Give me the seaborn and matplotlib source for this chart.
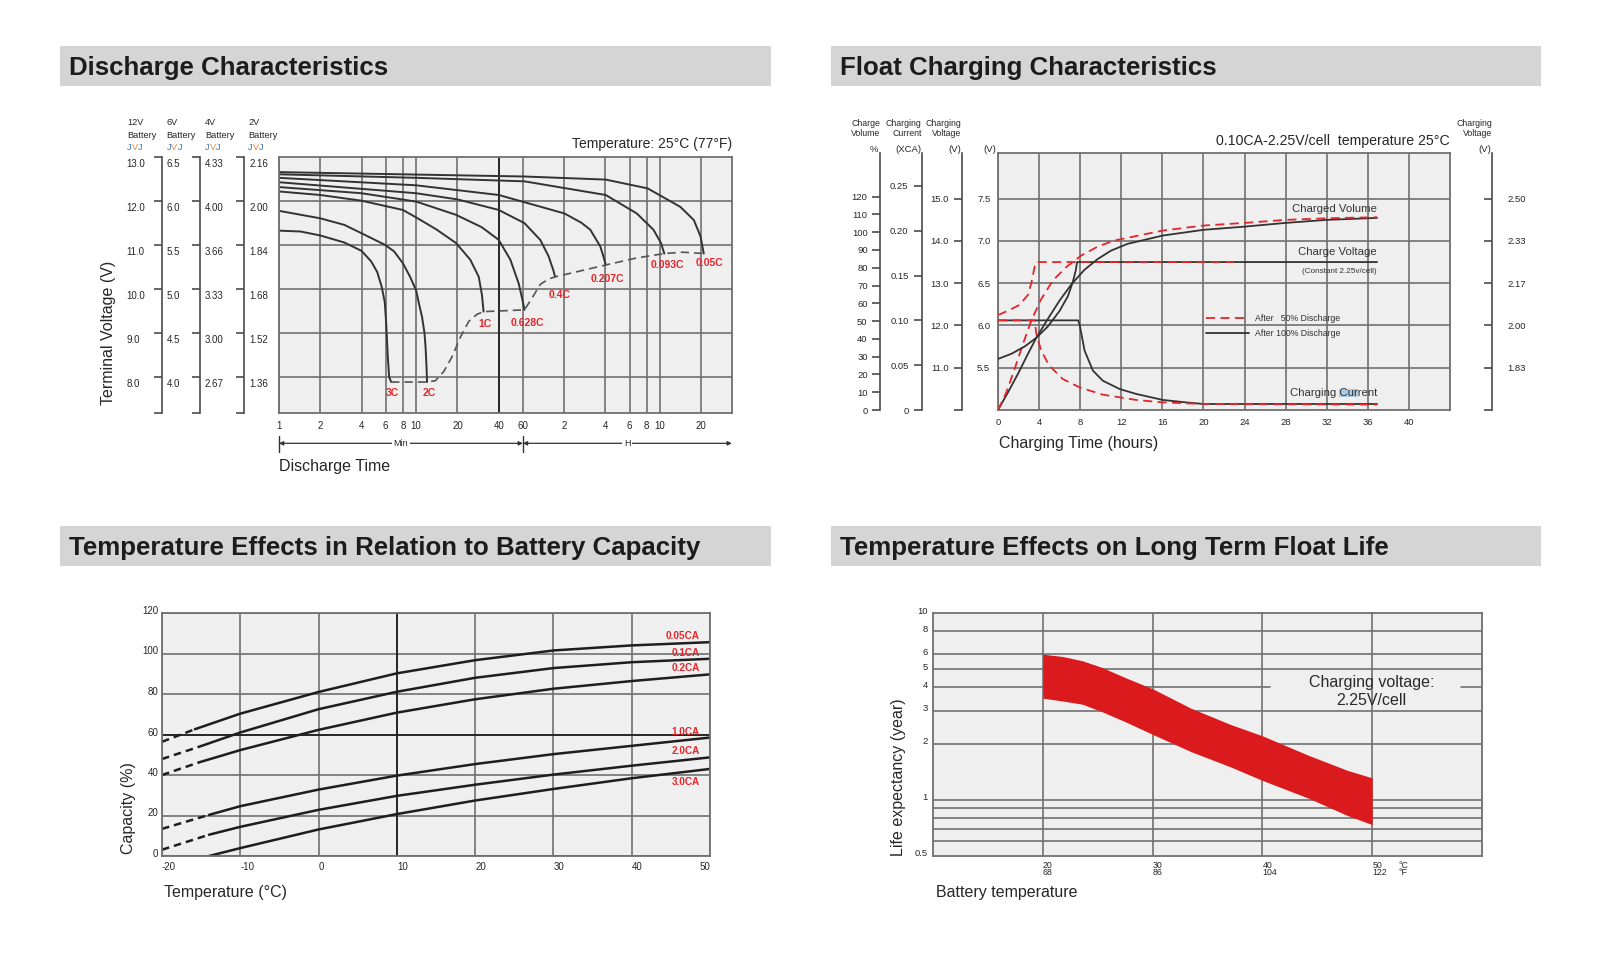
import numpy as np
import pandas as pd
import matplotlib
matplotlib.use("Agg")
import matplotlib.pyplot as plt
import matplotlib.transforms as mtransforms
from matplotlib.lines import Line2D
from matplotlib.patches import Rectangle
from matplotlib.ticker import NullLocator
import seaborn as sns

# ===================== DATA =====================
# --- Discharge characteristics: 12 V terminal voltage vs discharge time (minutes)
dis_labels = ["3C", "2C", "1C", "0.628C", "0.4C", "0.207C", "0.093C", "0.05C"]
t_3c = [1, 1.44, 2, 3, 4, 4.7, 5.2, 5.6, 5.9, 6.05, 6.2, 6.35, 6.57]
v_3c = [11.32, 11.30, 11.21, 11.05, 10.86, 10.62, 10.38, 10.05, 9.70, 9.20, 8.50, 8.00, 7.88]
t_2c = [1, 2, 3, 4, 5.9, 6.9, 8, 9, 10, 10.5, 11.05, 11.5, 11.7, 11.9, 12.0]
v_2c = [11.77, 11.60, 11.45, 11.26, 11.00, 10.85, 10.58, 10.28, 9.96, 9.65, 9.35, 8.99, 8.69, 8.22, 7.88]
t_1c = [1, 2, 4, 8, 10, 14, 19.5, 24.8, 28.6, 30.2, 31.0]
v_1c = [12.21, 12.13, 12.00, 11.79, 11.62, 11.35, 11.04, 10.66, 10.27, 9.85, 9.48]
t_0628c = [1, 4, 10, 19.5, 30, 40, 48.6, 55.9, 59.5, 61.6]
v_0628c = [12.31, 12.17, 11.98, 11.68, 11.40, 11.11, 10.66, 10.12, 9.75, 9.52]
t_04c = [1, 10, 20, 40, 61.6, 80.3, 92.3, 100, 103]
v_04c = [12.42, 12.17, 12.03, 11.79, 11.49, 11.11, 10.74, 10.42, 10.27]
t_0207c = [1, 10, 40, 120.6, 160, 186, 220, 232, 241]
v_0207c = [12.52, 12.35, 12.13, 11.71, 11.50, 11.34, 10.96, 10.73, 10.54]
t_0093c = [1, 10, 61.6, 241, 406, 537, 609, 644]
v_0093c = [12.60, 12.52, 12.44, 12.13, 11.71, 11.34, 11.04, 10.80]
t_005c = [1, 61.6, 241, 487, 843, 1058, 1183, 1249]
v_005c = [12.65, 12.55, 12.48, 12.28, 11.86, 11.56, 11.19, 10.80]
# final (end) voltage line
t_end = [6.57, 12.0, 13.8, 15.9, 18.3, 21.0, 24.2, 27.8, 31.0, 61.6, 70.0, 80.3, 92.3, 103,
         241, 406, 644, 885, 1249]
v_end = [7.88, 7.88, 7.91, 8.12, 8.46, 8.90, 9.26, 9.42, 9.48, 9.52, 9.79, 10.10, 10.22, 10.27,
         10.54, 10.70, 10.80, 10.83, 10.80]
dis_xticks = [1, 2, 4, 6, 8, 10, 20, 40, 60, 120, 240, 360, 480, 600, 1200]
dis_xticklabels = ["1", "2", "4", "6", "8", "10", "20", "40", "60", "2", "4", "6", "8", "10", "20"]
v12_ticks = [8, 9, 10, 11, 12, 13]
lab_12v = ["8.0", "9.0", "10.0", "11.0", "12.0", "13.0"]
lab_6v = ["4.0", "4.5", "5.0", "5.5", "6.0", "6.5"]
lab_4v = ["2.67", "3.00", "3.33", "3.66", "4.00", "4.33"]
lab_2v = ["1.36", "1.52", "1.68", "1.84", "2.00", "2.16"]
batt_names = ["12V", "6V", "4V", "2V"]

# --- Float charging characteristics (hours)
h_vol_100 = [0, 0.97, 1.94, 2.91, 3.72, 4.85, 5.99, 7.18, 8.41, 9.71, 11.0, 12.6, 16.05, 20, 24, 28, 32, 36.9]
pct_vol_100 = [0, 9.9, 20.3, 31.5, 40.5, 51.2, 61.5, 70.9, 78.8, 84.9, 89.6, 93.4, 98.1, 101.3, 103.1, 105.2, 106.9, 108.0]
h_vol_50 = [0, 0.81, 1.62, 2.43, 3.24, 4.21, 5.34, 6.63, 8.09, 9.71, 11.33, 16.05, 20, 24, 28, 32, 36.9]
pct_vol_50 = [0, 9.9, 23.1, 37.1, 50.3, 62.4, 72.8, 80.3, 86.8, 91.9, 95.3, 100.9, 103.7, 105.2, 106.9, 107.8, 108.4]
h_volt_100 = [0, 1.29, 2.59, 3.72, 4.85, 5.99, 6.80, 7.28, 7.57, 7.70, 36.9]
cell_volt_100 = [1.868, 1.888, 1.917, 1.951, 1.996, 2.057, 2.115, 2.171, 2.217, 2.25, 2.25]
h_volt_50 = [0, 0.97, 2.1, 2.92, 3.24, 3.57, 3.73, 22.9]
cell_volt_50 = [2.041, 2.058, 2.081, 2.121, 2.167, 2.232, 2.25, 2.25]
h_cur_100 = [0, 7.80, 7.95, 8.43, 9.24, 10.2, 11.84, 13.46, 16.05, 18.3, 20, 36.9]
ca_cur_100 = [0.10, 0.10, 0.095, 0.0662, 0.0439, 0.0327, 0.0234, 0.0179, 0.0112, 0.0085, 0.0067, 0.0067]
h_cur_50 = [0, 3.57, 3.73, 4.2, 5.0, 6.3, 7.95, 10.2, 13.46, 16.05, 20, 36.9]
ca_cur_50 = [0.10, 0.10, 0.0848, 0.0662, 0.0494, 0.0346, 0.0252, 0.0171, 0.0112, 0.0085, 0.0067, 0.006]
fc_hours = [0, 4, 8, 12, 16, 20, 24, 28, 32, 36, 40]
v6_ticks = [5.5, 6.0, 6.5, 7.0, 7.5]
vol_ticks = [0, 10, 20, 30, 40, 50, 60, 70, 80, 90, 100, 110, 120]
ca_ticks = [0, 0.05, 0.10, 0.15, 0.20, 0.25]
ca_labels = ["0", "0.05", "0.10", "0.15", "0.20", "0.25"]
v12f_ticks = [10, 11, 12, 13, 14, 15]
v12f_labels = ["", "11.0", "12.0", "13.0", "14.0", "15.0"]
cell_ticks = [1.6667, 1.8333, 2.0, 2.1667, 2.3333, 2.5]
cell_labels = ["", "1.83", "2.00", "2.17", "2.33", "2.50"]

# --- Temperature effects on capacity (%)
cap_names = ["0.05CA", "0.1CA", "0.2CA", "1.0CA", "2.0CA", "3.0CA"]
T_005 = [-15.8, -10, 0, 10, 20, 30, 40, 50]
C_005 = [62.6, 70.3, 81.0, 90.2, 96.7, 101.5, 104.0, 105.6]
T_01 = [-15.3, -10, 0, 10, 20, 30, 40, 50]
C_01 = [53.9, 61.0, 72.5, 81.1, 88.0, 92.8, 95.7, 97.4]
T_02 = [-15.3, -10, 0, 10, 20, 30, 40, 50]
C_02 = [46.2, 52.3, 62.3, 70.8, 77.4, 82.6, 86.4, 89.7]
T_10 = [-14, -10, 0, 10, 20, 30, 40, 50]
C_10 = [20.3, 24.6, 32.8, 39.7, 45.4, 50.3, 54.4, 58.5]
T_20 = [-14, -10, 0, 10, 20, 30, 40, 50]
C_20 = [10.5, 14.4, 22.8, 29.7, 35.2, 40.2, 44.6, 48.7]
T_30 = [-14, -10, 0, 10, 20, 30, 40, 50]
C_30 = [0.0, 3.9, 13.1, 20.7, 27.4, 33.1, 38.4, 43.0]
cap_dash_T0 = -20
cap_dash_C0 = [56.4, 47.9, 40.0, 13.4, 3.1, None]

# --- Temperature effects on float life (years)
life_T = [20, 21.8, 23.6, 25.4, 27.5, 30, 33.5, 37.1, 40, 44.2, 47.7, 50]
life_hi = [6.02, 5.85, 5.55, 5.11, 4.51, 3.93, 3.09, 2.53, 2.20, 1.73, 1.44, 1.31]
life_lo = [3.50, 3.38, 3.25, 2.96, 2.62, 2.24, 1.81, 1.50, 1.27, 1.02, 0.826, 0.736]
life_yticks = [0.5, 1, 2, 3, 4, 5, 6, 8, 10]
life_ylabels = ["0.5", "1", "2", "3", "4", "5", "6", "8", "10"]
life_minor = [0.6, 0.7, 0.8, 0.9]
life_xticks = [20, 30, 40, 50]
life_xlabels = ["20\n68", "30\n86", "40\n104", "50\n122"]

# ===================== STYLE =====================
W, H = 1600, 974
sns.set_theme(style="white")
plt.rcParams["font.family"] = ["Liberation Sans", "DejaVu Sans"]
plt.rcParams["axes.unicode_minus"] = False

BG = "#efefef"
GRID = "#707070"
CURVE = "#333333"
RED = "#e3262b"
TXT = "#262626"
BANNER = "#d5d5d5"
DASH = (0, (5, 3))

fig = plt.figure(figsize=(16, 9.74), dpi=100)
fig.patch.set_facecolor("white")


def R(l, t, r, b):
    return [l / W, 1 - b / H, (r - l) / W, (b - t) / H]


def ftext(x, y, s, **kw):
    kw.setdefault("color", TXT)
    return fig.text(x / W, 1 - y / H, s, **kw)


def style_ax(ax):
    ax.set_facecolor(BG)
    for s in ax.spines.values():
        s.set_color(GRID)
        s.set_linewidth(1.3)
    ax.set_axisbelow(True)


def shift_labels(labels, dx_px=0.0, dy_px=0.0):
    off = mtransforms.ScaledTranslation(dx_px / 100, dy_px / 100, fig.dpi_scale_trans)
    for lb in labels:
        lb.set_transform(lb.get_transform() + off)


def scale_axis(x_px, top, bot, ylim, ticks, labels, side="left", pad=3.0, tlen=6.0):
    a = fig.add_axes(R(x_px, top, x_px + 0.5, bot))
    a.patch.set_visible(False)
    for k in ("top", "bottom", "right"):
        a.spines[k].set_visible(False)
    a.spines["left"].set_color("#4a4a4a")
    a.spines["left"].set_linewidth(1.2)
    a.set_xticks([])
    a.set_ylim(*ylim)
    a.set_yticks(ticks)
    a.set_yticklabels(labels)
    a.yaxis.set_minor_locator(NullLocator())
    a.tick_params(axis="y", which="major", direction="out", length=tlen, width=1.2,
                  color="#4a4a4a", labelsize=6.8, labelcolor=TXT, pad=pad,
                  left=True, right=False,
                  labelleft=(side == "left"), labelright=(side == "right"))
    return a


# ---------- banners ----------
banners = [(60, 46, 771, "Discharge Characteristics"),
           (831, 46, 1541, "Float Charging Characteristics"),
           (60, 526, 771, "Temperature Effects in Relation to Battery Capacity"),
           (831, 526, 1541, "Temperature Effects on Long Term Float Life")]
for (l, t, r, s) in banners:
    fig.add_artist(Rectangle((l / W, 1 - (t + 40) / H), (r - l) / W, 40 / H,
                             transform=fig.transFigure, fc=BANNER, ec="none", zorder=0))
    ftext(l + 9, t + 29, s, fontsize=18.6, fontweight="bold", va="baseline", ha="left",
          color="#1c1c1c")

# ===================== 1. DISCHARGE =====================
ax1 = fig.add_axes(R(279, 156.7, 731.8, 413.3))
style_ax(ax1)
ax1.set_xscale("log")
dis_curves = [(t_3c, v_3c), (t_2c, v_2c), (t_1c, v_1c), (t_0628c, v_0628c),
              (t_04c, v_04c), (t_0207c, v_0207c), (t_0093c, v_0093c), (t_005c, v_005c)]
for (t, v) in dis_curves:
    sns.lineplot(x=t, y=v, ax=ax1, color=CURVE, lw=1.4, estimator=None, sort=False, legend=False)
sns.lineplot(x=t_end, y=v_end, ax=ax1, color="#555555", lw=1.2, linestyle=DASH,
             estimator=None, sort=False, legend=False)
dis_offsets = [(1.2, -7.7), (1.2, -7.7), (0.7, -8.6), (2.4, -9.8), (3.1, -13.2),
               (1.2, -10.3), (1.9, -8.4), (4.1, -6.7)]
for (t, v), lbl, off in zip(dis_curves, dis_labels, dis_offsets):
    ax1.annotate(lbl, xy=(t[-1], v[-1]), xytext=off, textcoords="offset points",
                 ha="center", va="center", color=RED, fontsize=7.5, fontweight="bold")
ax1.set_xlim(1, 2000)
ax1.set_ylim(7.17, 13.0)
ax1.set_xticks(dis_xticks)
ax1.set_xticklabels(dis_xticklabels)
ax1.xaxis.set_minor_locator(NullLocator())
ax1.set_yticks([8, 9, 10, 11, 12])
ax1.set_yticklabels([])
ax1.grid(True, color=GRID, lw=1.2)
ax1.axvline(40, color="#1a1a1a", lw=1.2, zorder=1)
ax1.tick_params(length=0, labelsize=7, labelcolor=TXT, pad=5.5)
ax1.set_xlabel("")
ax1.set_ylabel("")

# Min / H arrows
xt = ax1.get_xaxis_transform()
ya = -0.117
arr = dict(arrowstyle="<|-|>", color="#333333", lw=0.9, shrinkA=0, shrinkB=0, mutation_scale=6)
ax1.annotate("", xy=(1, ya), xytext=(60, ya), xycoords=xt, textcoords=xt, arrowprops=arr)
ax1.annotate("", xy=(60, ya), xytext=(2000, ya), xycoords=xt, textcoords=xt, arrowprops=arr)
for xb in (1, 60):
    ax1.plot([xb, xb], [ya + 0.028, ya - 0.032], transform=xt, clip_on=False, color="#333333", lw=1.0)
ax1.text(np.sqrt(1 * 60), ya, "Min", transform=xt, ha="center", va="center", fontsize=6.5,
         color=TXT, bbox=dict(fc="white", ec="none", pad=1.2))
ax1.text(np.sqrt(60 * 2000), ya, "H", transform=xt, ha="center", va="center", fontsize=6.5,
         color=TXT, bbox=dict(fc="white", ec="none", pad=1.2))

# battery brackets
for xb in (161.7, 200, 244):
    scale_axis(xb, 156.7, 413.3, ax1.get_ylim(), [7.17] + v12_ticks, [""] * 7, tlen=5.8)
btr = mtransforms.blended_transform_factory(fig.transFigure, ax1.transData)
boff = mtransforms.ScaledTranslation(0, -7.5 / 100, fig.dpi_scale_trans)
for xl, labs in zip([126.7, 166.7, 205, 249.3], [lab_12v, lab_6v, lab_4v, lab_2v]):
    for val, s in zip(v12_ticks, labs):
        fig.text(xl / W, val, s, transform=btr + boff, ha="left", va="center",
                 fontsize=7, color=TXT)
BLUE_J, ORANGE_V = "#3c78c0", "#e0892e"
em = 6.6 * 100 / 72
for x, s in zip([127.3, 166.7, 205, 248.3], batt_names):
    ftext(x, 122.3, s, fontsize=6.6, ha="left", va="center")
    ftext(x, 135, "Battery", fontsize=6.6, ha="left", va="center")
    ftext(x, 147.3, "J", fontsize=6.6, ha="left", va="center", color=BLUE_J)
    ftext(x + 0.5 * em, 147.3, "V", fontsize=6.6, ha="left", va="center", color=ORANGE_V)
    ftext(x + 1.167 * em, 147.3, "J", fontsize=6.6, ha="left", va="center", color=BLUE_J)

ftext(108.3, 333, "Terminal Voltage (V)", rotation=90, ha="center", va="center", fontsize=11.5)
ftext(279, 467, "Discharge Time", ha="left", va="center", fontsize=11.5)
ftext(731.8, 144, "Temperature: 25°C (77°F)", ha="right", va="center", fontsize=10)

# ===================== 2. FLOAT CHARGING =====================
V6_LIM = (5.0, 8.04)
ax2 = fig.add_axes(R(998, 153, 1450, 410))
style_ax(ax2)
ax_pct = ax2.twinx()
ax_ca = ax2.twinx()
ax_cell = ax2.twinx()
for a in (ax_pct, ax_ca, ax_cell):
    a.set_axis_off()

sns.lineplot(x=h_vol_100, y=pct_vol_100, ax=ax_pct, color=CURVE, lw=1.3, estimator=None, sort=False, legend=False)
sns.lineplot(x=h_vol_50, y=pct_vol_50, ax=ax_pct, color=RED, lw=1.3, linestyle=DASH, estimator=None, sort=False, legend=False)
sns.lineplot(x=h_volt_100, y=cell_volt_100, ax=ax_cell, color=CURVE, lw=1.3, estimator=None, sort=False, legend=False)
sns.lineplot(x=h_volt_50, y=cell_volt_50, ax=ax_cell, color=RED, lw=1.3, linestyle=DASH, estimator=None, sort=False, legend=False)
sns.lineplot(x=h_cur_100, y=ca_cur_100, ax=ax_ca, color=CURVE, lw=1.3, estimator=None, sort=False, legend=False)
sns.lineplot(x=h_cur_50, y=ca_cur_50, ax=ax_ca, color=RED, lw=1.3, linestyle=DASH, estimator=None, sort=False, legend=False)

ax2.set_xlim(0, 44)
ax2.set_ylim(*V6_LIM)
ax_pct.set_ylim(0, 144.5)
ax_ca.set_ylim(0, 0.2867)
ax_cell.set_ylim(V6_LIM[0] / 3, V6_LIM[1] / 3)
ax2.set_xticks(fc_hours)
ax2.set_yticks(v6_ticks)
ax2.set_yticklabels([f"{v:.1f}" for v in v6_ticks])
ax2.grid(True, color=GRID, lw=1.2)
ax2.tick_params(length=0, labelsize=6.8, labelcolor=TXT, pad=5.6)
ax2.set_xlabel("")
ax2.set_ylabel("")

ax_pct.annotate("Charged Volume", xy=(h_vol_50[-1], pct_vol_50[-1]), xytext=(0, 6),
                textcoords="offset points", ha="right", va="center", fontsize=8.2, color="#333333")
ax_cell.annotate("Charge Voltage", xy=(h_volt_100[-1], cell_volt_100[-1]), xytext=(0, 7.4),
                 textcoords="offset points", ha="right", va="center", fontsize=8.2, color="#333333")
ax_cell.annotate("(Constant 2.25v/cell)", xy=(h_volt_100[-1], cell_volt_100[-1]), xytext=(0, -6.8),
                 textcoords="offset points", ha="right", va="center", fontsize=5.9, color="#333333")
cc_text = ax_ca.annotate("Charging Current", xy=(h_cur_100[-1], ca_cur_100[-1]), xytext=(0, 7.6),
                         textcoords="offset points", ha="right", va="center", fontsize=8.2,
                         color="#333333", zorder=5)

handles = [Line2D([], [], color=RED, lw=1.3, linestyle=DASH),
           Line2D([], [], color=CURVE, lw=1.3)]
ax2.legend(handles, ["After   50% Discharge", "After 100% Discharge"], loc="upper left",
           bbox_to_anchor=(0.46, 0.372), frameon=False, fontsize=6.3, handlelength=4.9,
           handletextpad=0.75, labelspacing=0.68, borderpad=0, borderaxespad=0,
           labelcolor="#333333")

scale_axis(880, 153, 410, (0, 144.5), vol_ticks, [str(v) for v in vol_ticks], pad=2.9)
scale_axis(921.7, 153, 410, (0, 0.2867), ca_ticks, ca_labels, pad=3.5)
scale_axis(961.7, 153, 410, (10.0, 16.08), v12f_ticks, v12f_labels, pad=3.2)
scale_axis(1491.7, 153, 410, (V6_LIM[0] / 3, V6_LIM[1] / 3), cell_ticks, cell_labels,
           side="right", pad=5.0)

for x, s in [(880, "Charge\nVolume"), (921.7, "Charging\nCurrent"), (961.7, "Charging\nVoltage"),
             (1492, "Charging\nVoltage")]:
    ftext(x, 128.5, s, fontsize=6.3, ha="right", va="center", multialignment="right", linespacing=1.05)
for x, s in [(878.3, "%"), (921.7, "(XCA)"), (961.7, "(V)"), (996.7, "(V)"), (1491.7, "(V)")]:
    ftext(x, 150, s, fontsize=6.8, ha="right", va="center")
ftext(1450, 140.7, "0.10CA-2.25V/cell  temperature 25°C", ha="right", va="center", fontsize=10.2)
ftext(999, 443.3, "Charging Time (hours)", ha="left", va="center", fontsize=11.5)

# ===================== 3. TEMPERATURE vs CAPACITY =====================
ax3 = fig.add_axes(R(162, 613, 710, 856))
style_ax(ax3)
cap_curves = [(T_005, C_005), (T_01, C_01), (T_02, C_02), (T_10, C_10), (T_20, C_20), (T_30, C_30)]
cap_off = [(-7.2, 4.6), (-7.2, 4.3), (-7.2, 4.6), (-7.2, 4.3), (-7.2, 4.6), (-7.2, -9.2)]
for (T, C), c0, name, off in zip(cap_curves, cap_dash_C0, cap_names, cap_off):
    sns.lineplot(x=T, y=C, ax=ax3, color="#1e1e1e", lw=1.8, estimator=None, sort=False, legend=False)
    if c0 is not None:
        sns.lineplot(x=[cap_dash_T0, T[0]], y=[c0, C[0]], ax=ax3, color="#1e1e1e", lw=1.8,
                     linestyle=(0, (3, 2)), estimator=None, sort=False, legend=False)
    ax3.annotate(name, xy=(T[-1], C[-1]), xytext=off, textcoords="offset points",
                 ha="right", va="center", color=RED, fontsize=7.2, fontweight="bold")
ax3.set_xlim(-20, 50)
ax3.set_ylim(0, 120)
ax3.set_xticks(list(range(-20, 51, 10)))
ax3.set_yticks(list(range(0, 121, 20)))
ax3.grid(True, color=GRID, lw=1.2)
ax3.axvline(10, color="#1a1a1a", lw=1.2, zorder=1)
ax3.axhline(60, color="#1a1a1a", lw=1.2, zorder=1)
ax3.tick_params(length=0, labelsize=7, labelcolor=TXT)
ax3.tick_params(axis="x", pad=4.3)
ax3.tick_params(axis="y", pad=2.6)
ax3.set_xlabel("")
ax3.set_ylabel("")
xl3 = ax3.get_xticklabels()
for lb in xl3:
    lb.set_ha("left")
xl3[-1].set_ha("right")
shift_labels(ax3.get_yticklabels(), dy_px=3)
ftext(128, 808, "Capacity (%)", rotation=90, ha="center", va="center", fontsize=11.5)
ftext(164, 892, "Temperature (°C)", ha="left", va="center", fontsize=11.5)

# ===================== 4. FLOAT LIFE =====================
ax4 = fig.add_axes(R(933, 613, 1482, 856))
style_ax(ax4)
ax4.set_yscale("log")
ax4.fill_between(life_T, life_lo, life_hi, color="#da1a1d", lw=0, zorder=2)
ax4.set_xlim(10, 60)
ax4.set_ylim(0.5, 10)
for v in life_minor + life_yticks[1:-1]:
    if v == 4:
        ax4.axhline(v, xmin=0, xmax=0.614, color=GRID, lw=1.2, zorder=1)
        ax4.axhline(v, xmin=0.962, xmax=1, color=GRID, lw=1.2, zorder=1)
    else:
        ax4.axhline(v, color=GRID, lw=1.2, zorder=1)
for x in life_xticks:
    ax4.axvline(x, color=GRID, lw=1.2, zorder=1)
ax4.set_yticks(life_yticks)
ax4.set_yticklabels(life_ylabels)
ax4.yaxis.set_minor_locator(NullLocator())
ax4.set_xticks(life_xticks + [52.4])
ax4.set_xticklabels(life_xlabels + ["°C\n°F"])
ax4.tick_params(length=0, labelsize=6.3, labelcolor=TXT)
ax4.tick_params(axis="x", pad=3.4)
ax4.tick_params(axis="y", pad=3.6, labelsize=6.8)
ax4.set_xlabel("")
ax4.set_ylabel("")
for lb in ax4.get_xticklabels():
    lb.set_ha("left")
    lb.set_linespacing(0.8)
shift_labels(ax4.get_yticklabels(), dy_px=3)
ax4.text(0.799, 0.675, "Charging voltage:\n2.25V/cell", transform=ax4.transAxes,
         ha="center", va="center", fontsize=11.5, color="#2a2a2a", linespacing=1.25)
ftext(899, 777, "Life expectancy (year)", rotation=90, ha="center", va="center", fontsize=11.5)
ftext(936, 893, "Battery temperature", ha="left", va="center", fontsize=11.5)

# ---------- highlight behind "Cur" (as in the reference) ----------
fig.canvas.draw()
rend = fig.canvas.get_renderer()
bb = cc_text.get_window_extent(rend)
prop = cc_text.get_fontproperties()
w_full, _, _ = rend.get_text_width_height_descent("Charging Cur", prop, ismath=False)
w_cur, _, _ = rend.get_text_width_height_descent("Cur", prop, ismath=False)
x0 = bb.x0 + w_full - w_cur - 0.5
ax_ca.add_patch(Rectangle((x0, bb.y0 + 1), w_cur + 1.0, bb.height - 1.5,
                          transform=mtransforms.IdentityTransform(), fc="#a9cbe6", ec="none",
                          zorder=1))

fig.savefig("out.png", dpi=100, facecolor="white")
